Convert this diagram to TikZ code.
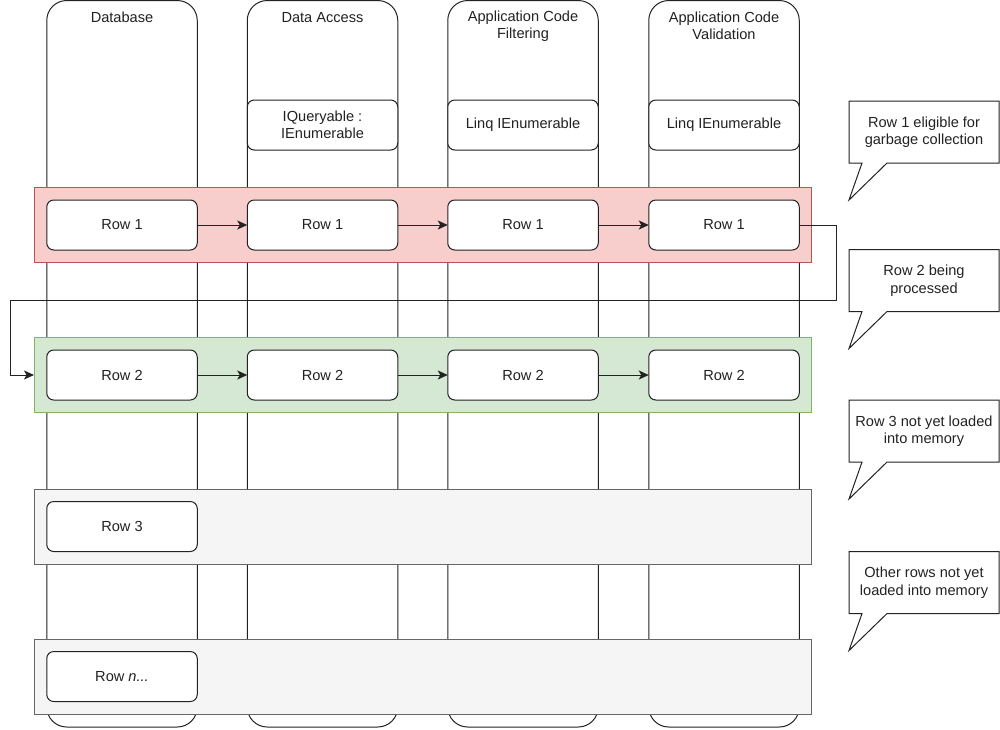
\documentclass[tikz,border=0pt]{standalone}
\usepackage{fontspec}
\setmainfont{Liberation Sans}
\usetikzlibrary{arrows.meta,calc}
\definecolor{ink}{HTML}{222222}
\definecolor{redfill}{HTML}{F8CECC}
\definecolor{redline}{HTML}{B85450}
\definecolor{greenfill}{HTML}{D5E8D4}
\definecolor{greenline}{HTML}{82B366}
\definecolor{greyfill}{HTML}{F5F5F5}
\definecolor{greyline}{HTML}{666666}
\begin{document}
\begin{tikzpicture}[x=1pt,y=-1pt,
  every node/.style={font=\fontsize{14.6}{17.5}\selectfont, text=ink, inner sep=0pt, outer sep=0pt},
  lane/.style={draw=ink, fill=white, line width=1pt, rounded corners=20pt,
    minimum width=150.5pt, minimum height=726.5pt, anchor=north},
  lanetitle/.style={align=center},
  typebox/.style={draw=ink, fill=white, line width=1pt, rounded corners=7pt,
    minimum width=150.5pt, minimum height=50pt, align=center},
  band/.style={line width=1pt, minimum width=777pt, minimum height=75pt},
  rowbox/.style={draw=ink, fill=white, line width=1pt, rounded corners=7pt,
    minimum width=150.5pt, minimum height=50pt},
  flow/.style={draw=ink, line width=1pt, -{Stealth[length=10pt,width=9pt,inset=2.5pt]}},
  note/.style={minimum width=150pt, minimum height=62pt, align=center},
  noteline/.style={draw=ink, line width=1pt, line join=miter},
]
\useasboundingbox (0,0) rectangle (1000,729);

% swimlanes
\node[lane] (lDB) at (122,0.5) {};
\node[lane] (lDA) at (322.5,0.5) {};
\node[lane] (lAF) at (523,0.5) {};
\node[lane] (lAV) at (724,0.5) {};
\node[lanetitle] (tDB) at (122,17.5) {Database};
\node[lanetitle] (tDA) at (322.5,17.5) {Data Access};
\node[lanetitle] (tAF) at (523,26) {Application Code\\Filtering};
\node[lanetitle] (tAV) at (724,26) {Application Code\\Validation};

% element types per lane
\node[typebox] (yDA) at (322.5,125) {IQueryable :\\IEnumerable};
\node[typebox] (yAF) at (523,125) {Linq IEnumerable};
\node[typebox] (yAV) at (724,125) {Linq IEnumerable};

% row bands
\node[band, fill=redfill, draw=redline] (band1) at (422.5,225) {};
\node[band, fill=greenfill, draw=greenline] (band2) at (422.5,375) {};
\node[band, fill=greyfill, draw=greyline] (band3) at (422.5,526.5) {};
\node[band, fill=greyfill, draw=greyline] (band4) at (422.5,676.5) {};

% rows
\node[rowbox] (r1a) at (122,225) {Row 1};
\node[rowbox] (r1b) at (322.5,225) {Row 1};
\node[rowbox] (r1c) at (523,225) {Row 1};
\node[rowbox] (r1d) at (724,225) {Row 1};
\node[rowbox] (r2a) at (122,375) {Row 2};
\node[rowbox] (r2b) at (322.5,375) {Row 2};
\node[rowbox] (r2c) at (523,375) {Row 2};
\node[rowbox] (r2d) at (724,375) {Row 2};
\node[rowbox] (r3a) at (122,526.5) {Row 3};
\node[rowbox] (rna) at (122,676.5) {Row \textit{n...}};

% row flow
\draw[flow] (r1a) -- (r1b);
\draw[flow] (r1b) -- (r1c);
\draw[flow] (r1c) -- (r1d);
\draw[flow] (r2a) -- (r2b);
\draw[flow] (r2b) -- (r2c);
\draw[flow] (r2c) -- (r2d);
\coordinate (bendR) at (836,300);
\coordinate (bendL) at (10,300);
\draw[flow] (r1d.east) -| (bendR) -- (bendL) |- (band2.west);

% callouts
\node[note] (n1) at (924,132) {Row 1 eligible for\\garbage collection};
\node[note] (n2) at (924,280.5) {Row 2 being\\processed};
\node[note] (n3) at (924,431) {Row 3 not yet loaded\\into memory};
\node[note] (n4) at (924,582.5) {Other rows not yet\\loaded into memory};
\foreach \n in {n1,n2,n3,n4}{
  \draw[noteline] (\n.north west) -- (\n.north east) -- (\n.south east)
    -- ($(\n.south west)+(38,0)$) -- ($(\n.south west)+(0,37)$)
    -- ($(\n.south west)+(13,0)$) -- (\n.south west) -- cycle;
}
\end{tikzpicture}
\end{document}
